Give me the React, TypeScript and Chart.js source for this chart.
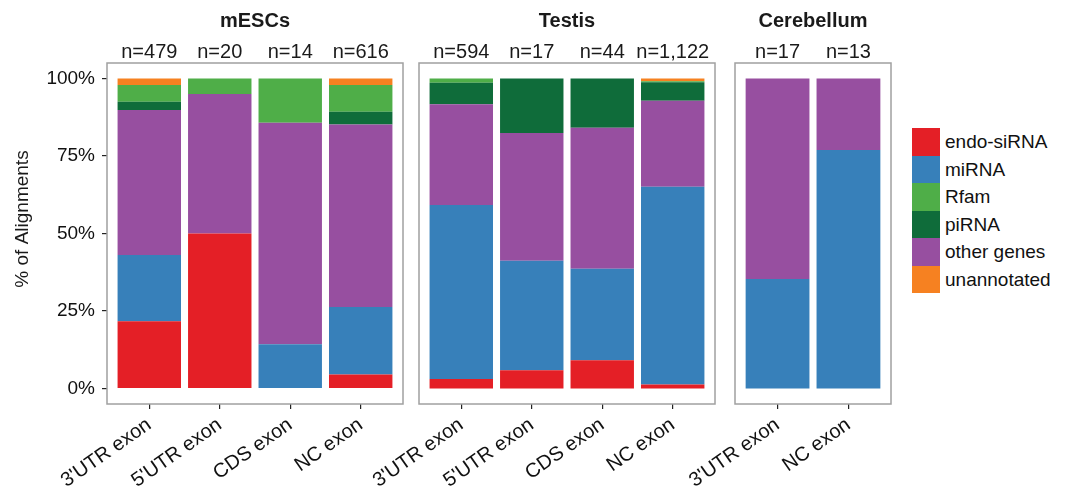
import React, { useEffect, useRef } from "react";
import { Chart, registerables } from "chart.js";
Chart.register(...registerables);

const FONT = "'Liberation Sans', Arial, Helvetica, sans-serif";

// Legend order
const seriesNames = ["endo-siRNA", "miRNA", "Rfam", "piRNA", "other genes", "unannotated"];
const seriesColors = ["#E41F26", "#3780BA", "#4FAE48", "#0F6C3A", "#974FA0", "#F68121"];
// Stacking order bottom -> top (indices into seriesNames)
const stackOrder = [0, 1, 4, 3, 2, 5];

const yTicks = [0, 25, 50, 75, 100];
const yTitle = "% of Alignments";

// mESCs
const mescTitle = "mESCs";
const mescCategories = ["3'UTR exon", "5'UTR exon", "CDS exon", "NC exon"];
const mescCounts = ["n=479", "n=20", "n=14", "n=616"];
const mescEndoSiRNA = [21.7, 50.0, 0, 4.5];
const mescMiRNA = [21.4, 0, 14.3, 21.8];
const mescRfam = [5.4, 5.0, 14.3, 8.6];
const mescPiRNA = [2.7, 0, 0, 4.1];
const mescOther = [46.7, 45.0, 71.4, 58.9];
const mescUnannotated = [2.1, 0, 0, 2.1];

// Testis
const testisTitle = "Testis";
const testisCategories = ["3'UTR exon", "5'UTR exon", "CDS exon", "NC exon"];
const testisCounts = ["n=594", "n=17", "n=44", "n=1,122"];
const testisEndoSiRNA = [3.1, 5.9, 9.1, 1.3];
const testisMiRNA = [56.1, 35.3, 29.5, 63.8];
const testisRfam = [1.4, 0, 0, 0.3];
const testisPiRNA = [6.9, 17.6, 15.9, 6.0];
const testisOther = [32.5, 41.2, 45.5, 27.7];
const testisUnannotated = [0, 0, 0, 0.9];

// Cerebellum
const cereTitle = "Cerebellum";
const cereCategories = ["3'UTR exon", "NC exon"];
const cereCounts = ["n=17", "n=13"];
const cereEndoSiRNA = [0, 0];
const cereMiRNA = [35.3, 76.9];
const cereRfam = [0, 0];
const cerePiRNA = [0, 0];
const cereOther = [64.7, 23.1];
const cereUnannotated = [0, 0];

type PanelDef = {
  title: string;
  categories: string[];
  counts: string[];
  values: number[][];
  showY: boolean;
  padLeft: number;
  padRight: number;
};

const CANVAS_W = 900;
const CANVAS_H = 495;

const panels: PanelDef[] = [
  {
    title: mescTitle,
    categories: mescCategories,
    counts: mescCounts,
    values: [mescEndoSiRNA, mescMiRNA, mescRfam, mescPiRNA, mescOther, mescUnannotated],
    showY: true,
    padLeft: 0,
    padRight: CANVAS_W - 403,
  },
  {
    title: testisTitle,
    categories: testisCategories,
    counts: testisCounts,
    values: [testisEndoSiRNA, testisMiRNA, testisRfam, testisPiRNA, testisOther, testisUnannotated],
    showY: false,
    padLeft: 419,
    padRight: CANVAS_W - 715,
  },
  {
    title: cereTitle,
    categories: cereCategories,
    counts: cereCounts,
    values: [cereEndoSiRNA, cereMiRNA, cereRfam, cerePiRNA, cereOther, cereUnannotated],
    showY: false,
    padLeft: 735,
    padRight: CANVAS_W - 891,
  },
];

function Panel({ def }: { def: PanelDef }) {
  const ref = useRef<HTMLCanvasElement | null>(null);
  useEffect(() => {
    if (!ref.current) return;
    const n = def.categories.length;
    const datasets = stackOrder.map((si) => ({
      label: seriesNames[si],
      data: def.values[si].map((v, i) => ({ x: i + 1, y: v })),
      backgroundColor: seriesColors[si],
      borderWidth: 0,
      barPercentage: 0.9,
      categoryPercentage: 1,
    }));
    const facetPlugin = {
      id: "facet" + def.title,
      afterDraw(chart: any) {
        const { ctx, chartArea } = chart;
        const xs = chart.scales.x;
        ctx.save();
        // panel border
        ctx.strokeStyle = "#A0A0A0";
        ctx.lineWidth = 1.5;
        ctx.strokeRect(chartArea.left, chartArea.top, chartArea.right - chartArea.left, chartArea.bottom - chartArea.top);
        // title
        ctx.fillStyle = "#1a1a1a";
        ctx.textAlign = "center";
        ctx.textBaseline = "alphabetic";
        ctx.font = `bold 20px ${FONT}`;
        ctx.fillText(def.title, (chartArea.left + chartArea.right) / 2, 27);
        // counts
        ctx.font = `20px ${FONT}`;
        def.counts.forEach((c, i) => {
          ctx.fillText(c, xs.getPixelForValue(i + 1), 57.5);
        });
        // y title
        if (def.showY) {
          ctx.translate(27.5, 219);
          ctx.rotate(-Math.PI / 2);
          ctx.font = `19px ${FONT}`;
          ctx.textBaseline = "alphabetic";
          ctx.fillText(yTitle, 0, 0);
        }
        ctx.restore();
      },
    };
    const chart = new Chart(ref.current, {
      type: "bar",
      data: { datasets } as any,
      plugins: [facetPlugin],
      options: {
        animation: false,
        responsive: false,
        maintainAspectRatio: false,
        layout: { padding: { left: def.padLeft, right: def.padRight, top: 63, bottom: 0 } },
        plugins: { legend: { display: false }, tooltip: { enabled: false } },
        scales: {
          x: {
            type: "linear",
            min: 0.4,
            max: n + 0.6,
            offset: false,
            stacked: true,
            afterBuildTicks: (ax: any) => {
              ax.ticks = def.categories.map((_, i) => ({ value: i + 1 }));
            },
            afterFit: (ax: any) => {
              ax.height = CANVAS_H - 404;
              ax.paddingLeft = 0;
              ax.paddingRight = 0;
              ax.paddingTop = 0;
              ax.paddingBottom = 0;
            },
            grid: { offset: false, drawOnChartArea: false, drawTicks: true, tickLength: 5, color: "#222", lineWidth: 1.2 },
            border: { display: false },
            ticks: {
              autoSkip: false,
              minRotation: 35,
              maxRotation: 35,
              padding: 4,
              color: "#111",
              font: { family: FONT, size: 20 },
              callback: (v: any) => def.categories[Math.round(Number(v)) - 1] ?? "",
            },
          },
          y: {
            type: "linear",
            min: -5,
            max: 105,
            stacked: true,
            display: def.showY,
            afterBuildTicks: (ax: any) => {
              ax.ticks = yTicks.map((v) => ({ value: v }));
            },
            afterFit: (ax: any) => {
              if (def.showY) ax.width = 107;
              ax.paddingTop = 0;
              ax.paddingBottom = 0;
            },
            grid: { drawOnChartArea: false, drawTicks: true, tickLength: 5, color: "#222", lineWidth: 1.2 },
            border: { display: false },
            ticks: {
              padding: 7,
              color: "#111",
              font: { family: FONT, size: 19 },
              callback: (v: any) => `${v}%`,
            },
          },
        },
      } as any,
    });
    return () => chart.destroy();
  }, [def]);
  return (
    <canvas
      ref={ref}
      width={CANVAS_W}
      height={CANVAS_H}
      style={{ position: "absolute", left: 0, top: 0, width: CANVAS_W, height: CANVAS_H }}
    />
  );
}

export default function App() {
  return (
    <div style={{ position: "fixed", left: 0, top: 0, width: 1068, height: 495, background: "#fff", overflow: "hidden" }}>
      {panels.map((p) => (
        <Panel key={p.title} def={p} />
      ))}
      <div style={{ position: "absolute", left: 912, top: 128 }}>
        {seriesNames.map((name, i) => (
          <div key={name} style={{ display: "flex", alignItems: "center", height: 27.5 }}>
            <div style={{ width: 28, height: 27.5, background: seriesColors[i] }} />
            <span style={{ marginLeft: 5, fontFamily: FONT, fontSize: 19, color: "#111", lineHeight: "27.5px", whiteSpace: "nowrap" }}>
              {name}
            </span>
          </div>
        ))}
      </div>
    </div>
  );
}
